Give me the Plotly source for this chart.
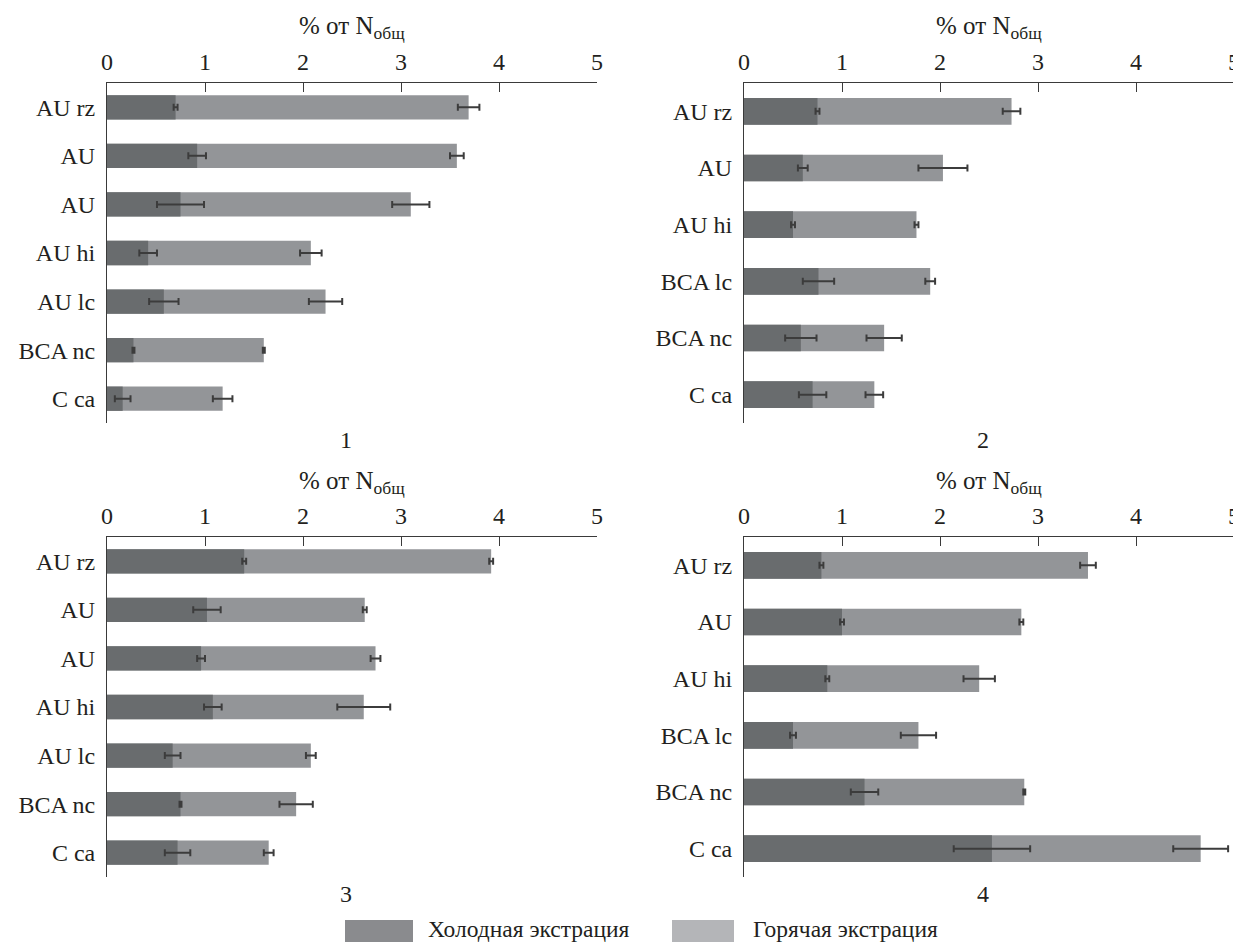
import plotly.graph_objects as go

W, H = 1233, 935   # page body adds an 8px margin; 1241x943 window
OFF = 8

# ---- data ----
cats1 = ["AU rz", "AU", "AU", "AU hi", "AU lc", "BCA nc", "C ca"]
cold1 = [0.70, 0.92, 0.75, 0.42, 0.58, 0.27, 0.16]
cold1_err = [0.02, 0.09, 0.24, 0.09, 0.15, 0.01, 0.08]
total1 = [3.69, 3.57, 3.10, 2.08, 2.23, 1.60, 1.18]
total1_err = [0.11, 0.07, 0.19, 0.11, 0.17, 0.01, 0.10]

cats2 = ["AU rz", "AU", "AU hi", "BCA lc", "BCA nc", "C ca"]
cold2 = [0.75, 0.60, 0.50, 0.76, 0.58, 0.70]
cold2_err = [0.02, 0.05, 0.02, 0.16, 0.16, 0.14]
total2 = [2.73, 2.03, 1.76, 1.90, 1.43, 1.33]
total2_err = [0.09, 0.25, 0.02, 0.05, 0.18, 0.09]

cats3 = ["AU rz", "AU", "AU", "AU hi", "AU lc", "BCA nc", "C ca"]
cold3 = [1.40, 1.02, 0.96, 1.08, 0.67, 0.75, 0.72]
cold3_err = [0.02, 0.14, 0.04, 0.09, 0.08, 0.01, 0.13]
total3 = [3.92, 2.63, 2.74, 2.62, 2.08, 1.93, 1.65]
total3_err = [0.02, 0.02, 0.05, 0.27, 0.05, 0.17, 0.05]

cats4 = ["AU rz", "AU", "AU hi", "BCA lc", "BCA nc", "C ca"]
cold4 = [0.79, 1.00, 0.85, 0.50, 1.23, 2.53]
cold4_err = [0.02, 0.02, 0.02, 0.03, 0.14, 0.39]
total4 = [3.51, 2.83, 2.40, 1.78, 2.86, 4.66]
total4_err = [0.08, 0.02, 0.16, 0.18, 0.01, 0.28]

panel_labels = ["1", "2", "3", "4"]
x_ticks = [0, 1, 2, 3, 4, 5]
axis_title = "% от N<sub>общ</sub>"
legend_names = ["Холодная экстрация", "Горячая экстрация"]

# ---- styling ----
FONT = "'Liberation Serif'"
FS = 24
TXT = "#231f20"
COLD = "#696c6e"
HOT = "#939598"
LEG_COLD = "#8a8b8e"
LEG_HOT = "#b4b5b8"
ERR = "#3c3c3c"
AX = "#3a3a3a"

def px_x(p):
    return (p - OFF) / W

def px_y(p):
    return 1 - (p - OFF) / H

panels = [
    (cats1, cold1, cold1_err, total1, total1_err, (107, 597), (83, 423), 0.50),
    (cats2, cold2, cold2_err, total2, total2_err, (744, 1234), (83, 423), 0.47),
    (cats3, cold3, cold3_err, total3, total3_err, (107, 597), (537, 877), 0.50),
    (cats4, cold4, cold4_err, total4, total4_err, (744, 1234), (537, 877), 0.47),
]

fig = go.Figure()
layout = {}
annotations = []
for i, (cats, cold, cerr, tot, terr, (x0, x1), (y0, y1), bw) in enumerate(panels):
    n = i + 1
    xa = "x" if n == 1 else f"x{n}"
    ya = "y" if n == 1 else f"y{n}"
    pos = list(range(len(cats)))
    fig.add_trace(go.Bar(
        x=tot, y=pos, orientation="h", xaxis=xa, yaxis=ya,
        marker=dict(color=HOT, line=dict(width=0)), width=bw,
        error_x=dict(type="data", array=terr, color=ERR, thickness=2, width=3.5),
        showlegend=False, name=legend_names[1],
    ))
    fig.add_trace(go.Bar(
        x=cold, y=pos, orientation="h", xaxis=xa, yaxis=ya,
        marker=dict(color=COLD, line=dict(width=0)), width=bw,
        error_x=dict(type="data", array=cerr, color=ERR, thickness=2, width=3.5),
        showlegend=False, name=legend_names[0],
    ))
    xkey = "xaxis" if n == 1 else f"xaxis{n}"
    ykey = "yaxis" if n == 1 else f"yaxis{n}"
    layout[xkey] = dict(
        domain=[px_x(x0), px_x(x1)], anchor=ya, side="top", range=[0, 5],
        tickvals=x_ticks, ticks="inside", ticklen=9, tickwidth=1, tickcolor=AX,
        showline=True, linecolor=AX, linewidth=1, showgrid=False, zeroline=False,
        tickfont=dict(family=FONT, size=FS, color=TXT), ticklabelstandoff=2,
        automargin=False, fixedrange=True,
    )
    layout[ykey] = dict(
        domain=[px_y(y1), px_y(y0)], anchor=xa, range=[len(cats) - 0.5, -0.5],
        tickvals=pos, ticktext=cats, ticks="", showline=True, linecolor=AX,
        linewidth=1, showgrid=False, zeroline=False,
        tickfont=dict(family=FONT, size=FS, color=TXT), ticklabelstandoff=6,
        automargin=False, fixedrange=True,
    )
    cx = (x0 + x1) / 2
    annotations.append(dict(
        text=axis_title, x=px_x(cx), y=px_y(y0 - 55), xref="paper", yref="paper",
        xanchor="center", yanchor="middle", showarrow=False,
        font=dict(family=FONT, size=25, color=TXT),
    ))
    annotations.append(dict(
        text=panel_labels[i], x=px_x(cx - 6), y=px_y(y1 + 17), xref="paper", yref="paper",
        xanchor="center", yanchor="middle", showarrow=False,
        font=dict(family=FONT, size=FS, color=TXT),
    ))

# legend drawn as swatches + text
shapes = [
    dict(type="rect", xref="paper", yref="paper", x0=px_x(345), x1=px_x(413),
         y0=px_y(942), y1=px_y(920), fillcolor=LEG_COLD, line=dict(width=0)),
    dict(type="rect", xref="paper", yref="paper", x0=px_x(672), x1=px_x(734),
         y0=px_y(942), y1=px_y(920), fillcolor=LEG_HOT, line=dict(width=0)),
]
annotations.append(dict(text=legend_names[0], x=px_x(426), y=px_y(929), xref="paper",
                        yref="paper", xanchor="left", yanchor="middle", showarrow=False,
                        font=dict(family=FONT, size=23.5, color=TXT)))
annotations.append(dict(text=legend_names[1], x=px_x(751), y=px_y(929), xref="paper",
                        yref="paper", xanchor="left", yanchor="middle", showarrow=False,
                        font=dict(family=FONT, size=23.5, color=TXT)))

fig.update_layout(
    width=W, height=H, autosize=False,
    margin=dict(l=0, r=0, t=0, b=0, pad=0),
    paper_bgcolor="white", plot_bgcolor="white",
    font=dict(family=FONT, color=TXT),
    barmode="overlay", showlegend=False,
    annotations=annotations, shapes=shapes,
    **layout,
)

fig.write_html("out.html")
